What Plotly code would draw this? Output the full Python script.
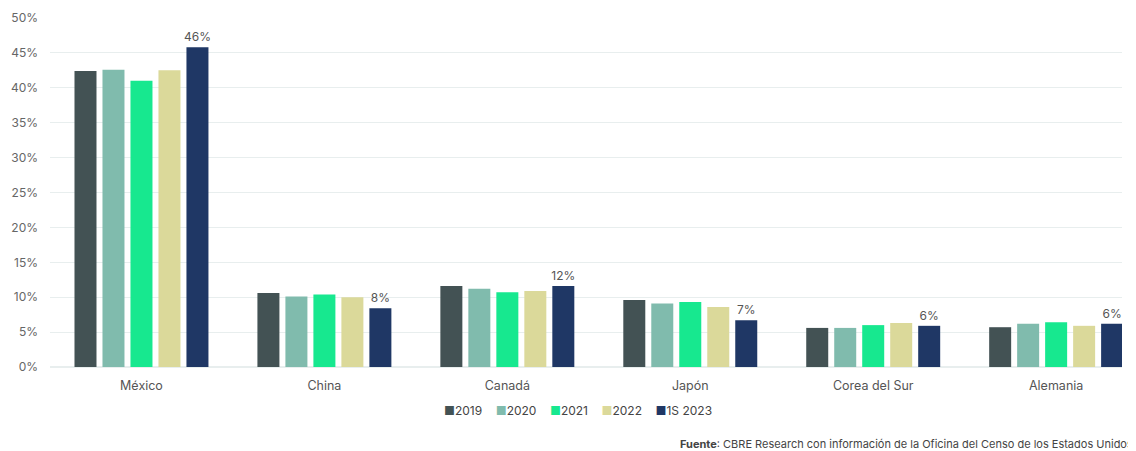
import plotly.graph_objects as go

categories = ["México", "China", "Canadá", "Japón", "Corea del Sur", "Alemania"]
series_names = ["2019", "2020", "2021", "2022", "1S 2023"]
v2019 = [42.4, 10.6, 11.6, 9.6, 5.6, 5.7]
v2020 = [42.6, 10.1, 11.2, 9.1, 5.6, 6.2]
v2021 = [41.0, 10.4, 10.7, 9.3, 6.0, 6.4]
v2022 = [42.5, 10.0, 10.9, 8.6, 6.3, 5.9]
v2023 = [45.8, 8.4, 11.6, 6.7, 5.9, 6.2]
labels_2023 = ["46%", "8%", "12%", "7%", "6%", "6%"]
colors = ["#435254", "#80bbad", "#17e88f", "#dbd99a", "#1f3765"]
y_ticks = [0, 5, 10, 15, 20, 25, 30, 35, 40, 45, 50]

values = [v2019, v2020, v2021, v2022, v2023]
font_family = "Inter, Roboto, Arial, sans-serif"

fig = go.Figure()
for i, (name, vals, col) in enumerate(zip(series_names, values, colors)):
    kw = {}
    if i == 4:
        kw = dict(text=labels_2023, textposition="outside", texttemplate="%{text}",
                  textfont=dict(size=12, color="#555555", family=font_family),
                  constraintext="none", cliponaxis=False)
    fig.add_trace(go.Bar(x=categories, y=vals, name=name,
                         marker=dict(color=col, line=dict(width=0)),
                         hoverinfo="skip", **kw))

legend_text = "&nbsp;&nbsp;&nbsp;&nbsp;".join(
    f"<span style='color:{c}'>■</span>{n}" for n, c in zip(series_names, colors))

fig.update_layout(
    width=1128, height=443,
    barmode="group", bargap=0.235, bargroupgap=0.214,
    plot_bgcolor="white", paper_bgcolor="white",
    margin=dict(l=42, r=14, t=10, b=84, autoexpand=False),
    font=dict(family=font_family, size=11, color="#555555"),
    showlegend=False,
    xaxis=dict(range=[-0.5, 5.36], showgrid=False, showline=False, ticks="",
               automargin=False, ticklabelstandoff=9,
               tickfont=dict(size=12.5, color="#555555")),
    yaxis=dict(range=[0, 50], tickvals=y_ticks,
               ticktext=[f"{t}%" for t in y_ticks],
               showgrid=True, gridcolor="#e8eeee", gridwidth=1,
               zeroline=True, zerolinecolor="#e8eeee", showline=False,
               ticks="", ticklabelstandoff=11, automargin=False,
               tickfont=dict(size=12, color="#666666")),
    annotations=[
        dict(text=legend_text, xref="paper", yref="paper", x=0.493, xanchor="center",
             y=-0.126, yanchor="middle", showarrow=False,
             font=dict(size=12, color="#444444")),
        dict(text="<b>Fuente</b>: CBRE Research con información de la Oficina del Censo de los Estados Unidos",
             xref="paper", yref="paper", x=0.586, xanchor="left", y=-0.222, yanchor="middle",
             showarrow=False, font=dict(size=11, color="#444444")),
    ],
)

fig.write_html("out.html")
